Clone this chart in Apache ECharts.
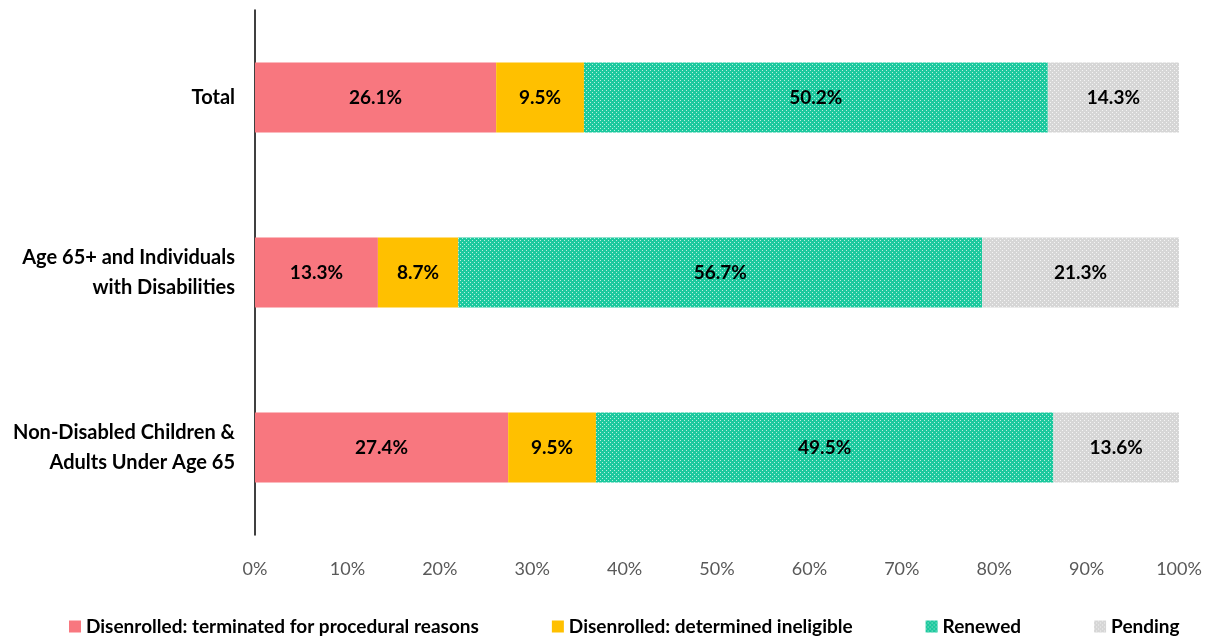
<!DOCTYPE html>
<html>
<head>
<meta charset="utf-8">
<script src="https://cdn.jsdelivr.net/npm/echarts@6/dist/echarts.min.js"></script>
<style>
  html, body { margin: 0; padding: 0; background: #fff; }
  #chart { width: 1212px; height: 639px; }
</style>
</head>
<body>
<div id="chart"></div>
<script>
var categories = ['Total', 'Age 65+ and Individuals\nwith Disabilities', 'Non-Disabled Children &\nAdults Under Age 65'];
var seriesNames = ['Disenrolled: terminated for procedural reasons', 'Disenrolled: determined ineligible', 'Renewed', 'Pending'];
var procedural = [26.1, 13.3, 27.4];
var ineligible = [9.5, 8.7, 9.5];
var renewed = [50.2, 56.7, 49.5];
var pending = [14.3, 21.3, 13.6];
var xTicks = [0, 10, 20, 30, 40, 50, 60, 70, 80, 90, 100];

// small dotted textures like the original fills
function dotted(base, dot) {
    var c = document.createElement('canvas');
    c.width = 4; c.height = 4;
    var ctx = c.getContext('2d');
    ctx.fillStyle = base;
    ctx.fillRect(0, 0, 4, 4);
    ctx.fillStyle = dot;
    ctx.fillRect(0, 0, 1, 1);
    ctx.fillRect(2, 2, 1, 1);
    return { image: c, repeat: 'repeat' };
}

var colors = ['#F8777F', '#FFC000', dotted('#1CC99E', '#B8EEDF'), dotted('#D6D6D6', '#F4F4F4')];
var values = [procedural, ineligible, renewed, pending];

var chart = echarts.init(document.getElementById('chart'));
var option = {
    animation: false,
    textStyle: { fontFamily: 'Lato' },
    grid: { left: 255, right: 33, top: 10, bottom: 104 },
    legend: {
        bottom: -2,
        left: 64,
        itemGap: 73,
        itemWidth: 12,
        itemHeight: 12,
        icon: 'rect',
        textStyle: { fontSize: 19, fontWeight: 'bold', color: '#000' },
        data: seriesNames
    },
    xAxis: {
        type: 'value',
        min: 0,
        max: 100,
        interval: 10,
        axisLine: { show: false },
        axisTick: { show: false },
        splitLine: { show: false },
        axisLabel: {
            formatter: function (v) { return xTicks.indexOf(v) >= 0 ? v + '%' : ''; },
            fontSize: 18, color: '#595959', margin: 25
        }
    },
    yAxis: {
        type: 'category',
        inverse: true,
        data: categories,
        axisLine: { show: true, lineStyle: { color: '#000', width: 1.5 } },
        axisTick: { show: false },
        axisLabel: { fontSize: 20, fontWeight: 'bold', color: '#000', margin: 20, lineHeight: 30, align: 'right' }
    },
    series: seriesNames.map(function (name, i) {
        return {
            name: name,
            type: 'bar',
            stack: 'all',
            barWidth: '40%',
            itemStyle: { color: colors[i] },
            label: {
                show: true,
                formatter: function (p) { return p.value.toFixed(1) + '%'; },
                fontSize: 19,
                fontWeight: 'bold',
                color: '#000'
            },
            data: values[i]
        };
    })
};
chart.setOption(option);
</script>
</body>
</html>
